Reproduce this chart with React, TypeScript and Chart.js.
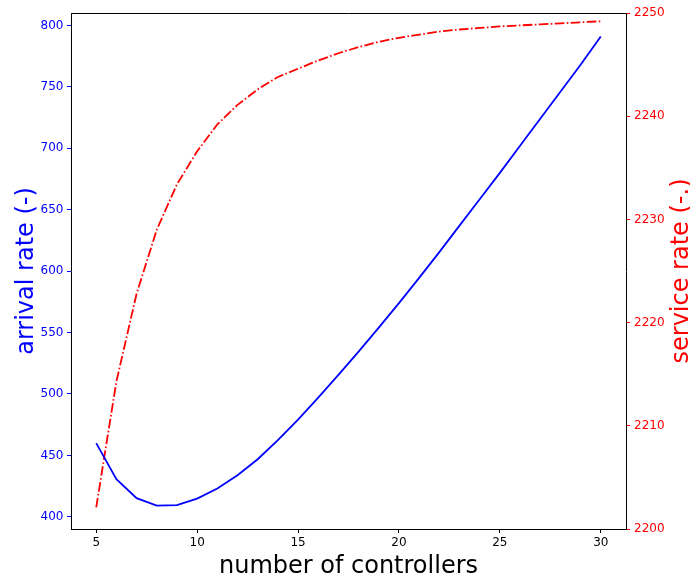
import React, { useEffect, useRef } from "react";
import { Chart, registerables } from "chart.js";

Chart.register(...registerables);

// number of controllers
const CONTROLLERS = [5, 6, 7, 8, 9, 10, 11, 12, 13, 14, 15, 16, 17, 18, 19, 20, 21, 22, 23, 24, 25, 26, 27, 28, 29, 30];

// arrival rate (left axis)
const ARRIVAL = [
  460.0, 430.6, 415.2, 409.2, 409.5, 414.9, 423.0, 433.8, 446.9, 462.4, 479.2, 497.0, 515.5,
  534.5, 554.0, 574.0, 594.5, 615.5, 637.0, 658.5, 680.0, 702.0, 724.0, 746.0, 768.0, 791.0,
];

// service rate (right axis)
const SERVICE = [
  2202.1, 2214.3, 2222.8, 2229.0, 2233.4, 2236.6, 2239.2, 2241.1, 2242.6, 2243.8, 2244.6, 2245.4,
  2246.1, 2246.7, 2247.2, 2247.6, 2247.9, 2248.2, 2248.4, 2248.55, 2248.7, 2248.8, 2248.9, 2249.0,
  2249.1, 2249.2,
];

const X_TICKS = [5, 10, 15, 20, 25, 30];
const LEFT_TICKS = [400, 450, 500, 550, 600, 650, 700, 750, 800];
const RIGHT_TICKS = [2200, 2210, 2220, 2230, 2240, 2250];

const X_TITLE = "number of controllers";
const LEFT_TITLE = "arrival rate (-)";
const RIGHT_TITLE = "service rate (-.)";

const FONT = "DejaVu Sans";
const W = 690;
const H = 577;

// 5% padding around the data range, like matplotlib's default margins
function padded(values: number[], frac = 0.05): [number, number] {
  const lo = Math.min(...values);
  const hi = Math.max(...values);
  const d = (hi - lo) * frac;
  return [lo - d, hi + d];
}

const frameAndTitles = {
  id: "frameAndTitles",
  afterDraw(chart: any) {
    const { ctx, chartArea } = chart;
    const { left, right, top, bottom } = chartArea;
    ctx.save();
    // top spine
    ctx.strokeStyle = "#000";
    ctx.lineWidth = 1;
    ctx.beginPath();
    ctx.moveTo(left, top + 0.5);
    ctx.lineTo(right, top + 0.5);
    ctx.stroke();

    ctx.font = `24px "${FONT}"`;
    ctx.textAlign = "center";
    ctx.textBaseline = "alphabetic";

    ctx.fillStyle = "#000";
    ctx.fillText(X_TITLE, (left + right) / 2, 573);

    const midY = (top + bottom) / 2;
    ctx.fillStyle = "blue";
    ctx.save();
    ctx.translate(33, midY);
    ctx.rotate(-Math.PI / 2);
    ctx.fillText(LEFT_TITLE, 0, 0);
    ctx.restore();

    ctx.fillStyle = "red";
    ctx.save();
    ctx.translate(688, midY);
    ctx.rotate(-Math.PI / 2);
    ctx.fillText(RIGHT_TITLE, 0, 0);
    ctx.restore();
    ctx.restore();
  },
};

export default function App() {
  const canvasRef = useRef<HTMLCanvasElement | null>(null);

  useEffect(() => {
    const canvas = canvasRef.current;
    if (!canvas) return;
    const [yMin, yMax] = padded(ARRIVAL);
    const fixTicks = (values: number[]) => (scale: any) => {
      scale.ticks = values.map((v) => ({ value: v }));
    };
    const chart = new Chart(canvas, {
      type: "line",
      data: {
        datasets: [
          {
            label: "arrival rate",
            data: CONTROLLERS.map((x, i) => ({ x, y: ARRIVAL[i] })),
            yAxisID: "y",
            borderColor: "blue",
            borderWidth: 1.8,
            pointRadius: 0,
            tension: 0,
            fill: false,
          },
          {
            label: "service rate",
            data: CONTROLLERS.map((x, i) => ({ x, y: SERVICE[i] })),
            yAxisID: "y1",
            borderColor: "red",
            borderWidth: 1.8,
            borderDash: [9.6, 2.4, 1.6, 2.4],
            pointRadius: 0,
            tension: 0,
            fill: false,
          },
        ],
      },
      options: {
        responsive: false,
        animation: false,
        layout: { padding: { top: 13, left: 0, right: 0, bottom: 0 } },
        plugins: {
          legend: { display: false },
          tooltip: { enabled: false },
          title: { display: false },
        },
        scales: {
          x: {
            type: "linear",
            min: 3.75,
            max: 31.25,
            afterBuildTicks: fixTicks(X_TICKS),
            afterFit: (s: any) => {
              s.height = 48;
            },
            grid: {
              drawOnChartArea: false,
              drawTicks: true,
              tickLength: 4,
              tickColor: "#000",
            },
            border: { display: true, color: "#000", width: 1 },
            ticks: {
              color: "#000",
              padding: 3,
              font: { family: FONT, size: 12 },
              maxRotation: 0,
              callback: (v: any) => String(v),
            },
          },
          y: {
            type: "linear",
            position: "left",
            min: yMin,
            max: yMax,
            afterBuildTicks: fixTicks(LEFT_TICKS),
            afterFit: (s: any) => {
              s.width = 71;
            },
            grid: {
              drawOnChartArea: false,
              drawTicks: true,
              tickLength: 4,
              tickColor: "blue",
            },
            border: { display: true, color: "#000", width: 1 },
            ticks: {
              color: "blue",
              padding: 3.5,
              font: { family: FONT, size: 12 },
              callback: (v: any) => String(v),
            },
          },
          y1: {
            type: "linear",
            position: "right",
            min: RIGHT_TICKS[0],
            max: RIGHT_TICKS[RIGHT_TICKS.length - 1],
            afterBuildTicks: fixTicks(RIGHT_TICKS),
            afterFit: (s: any) => {
              s.width = W - 626;
            },
            grid: {
              drawOnChartArea: false,
              drawTicks: true,
              tickLength: 4,
              tickColor: "red",
            },
            border: { display: true, color: "#000", width: 1 },
            ticks: {
              color: "red",
              padding: 4,
              font: { family: FONT, size: 12 },
              callback: (v: any) => String(v),
            },
          },
        },
      },
      plugins: [frameAndTitles],
    });
    return () => chart.destroy();
  }, []);

  return (
    <div style={{ position: "fixed", left: 0, top: 0, width: W, height: H, background: "#fff" }}>
      <canvas ref={canvasRef} width={W} height={H} style={{ display: "block" }} />
    </div>
  );
}
